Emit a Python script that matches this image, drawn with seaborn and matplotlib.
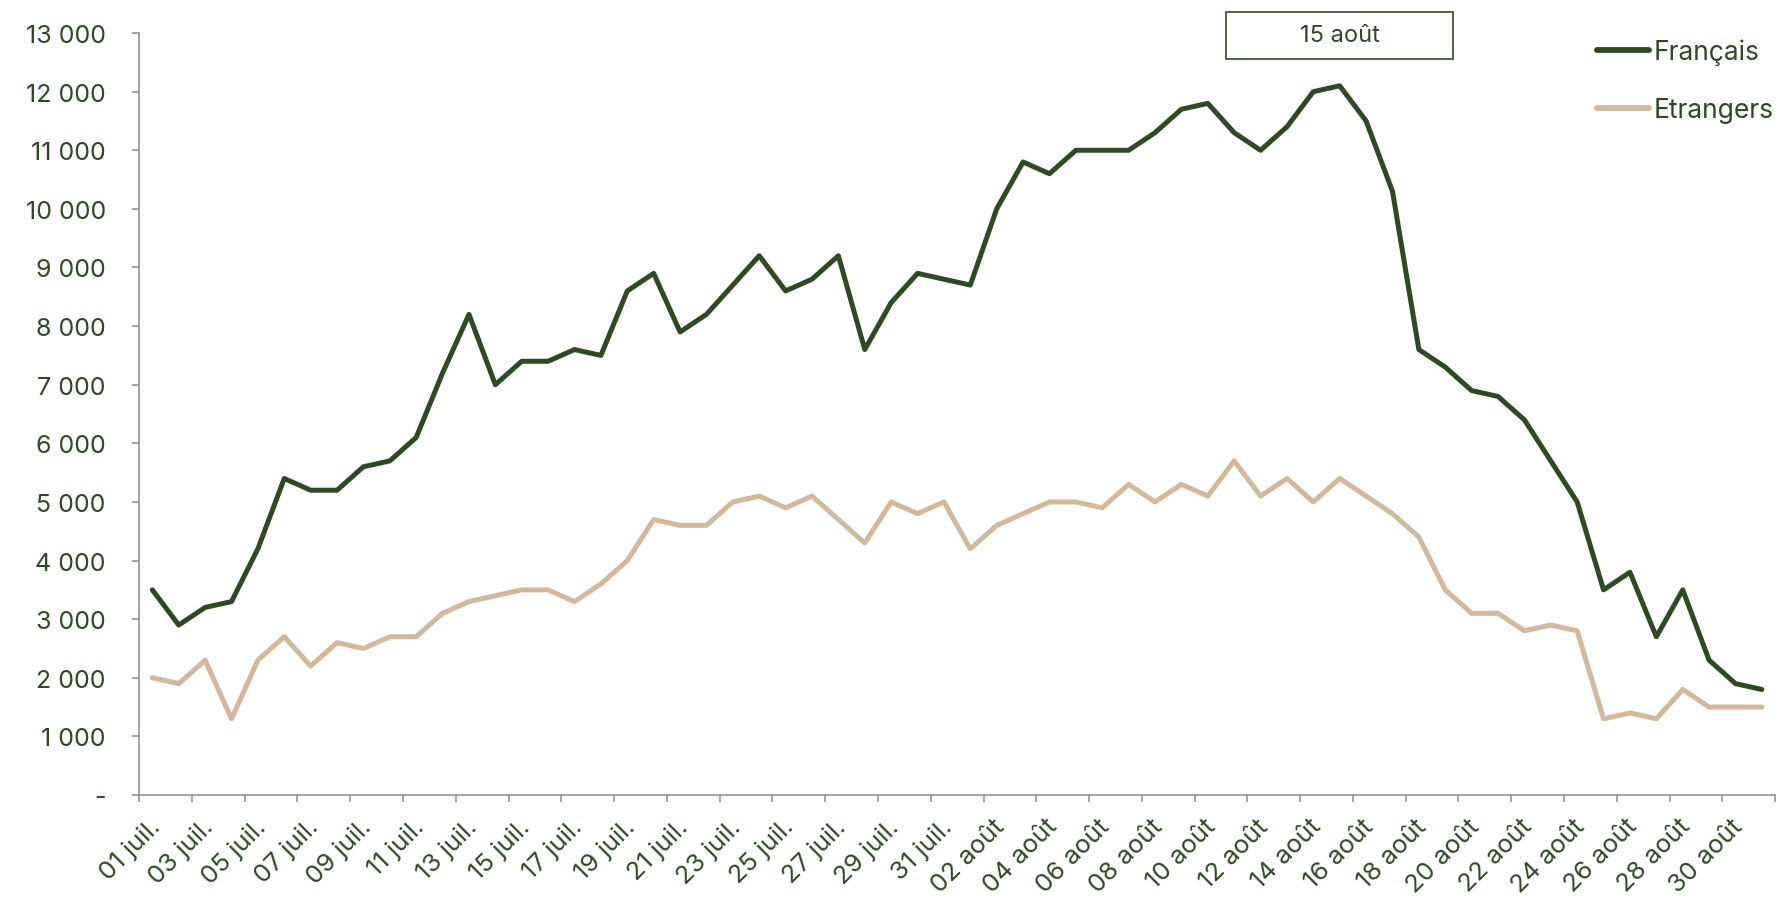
import numpy as np
import pandas as pd
import matplotlib
matplotlib.use("Agg")
import matplotlib.pyplot as plt
import matplotlib.transforms as mtransforms
import seaborn as sns
from matplotlib.patches import Rectangle
from matplotlib.ticker import FixedLocator, FuncFormatter

# ── Data ──────────────────────────────────────────────────────────────────────
days = [f"{d:02d} juil." for d in range(1, 32)] + [f"{d:02d} août" for d in range(1, 32)]

francais = [3500, 2900, 3200, 3300, 4200, 5400, 5200, 5200, 5600, 5700,
            6100, 7200, 8200, 7000, 7400, 7400, 7600, 7500, 8600, 8900,
            7900, 8200, 8700, 9200, 8600, 8800, 9200, 7600, 8400, 8900,
            8800,
            8700, 10000, 10800, 10600, 11000, 11000, 11000, 11300, 11700, 11800,
            11300, 11000, 11400, 12000, 12100, 11500, 10300, 7600, 7300, 6900,
            6800, 6400, 5700, 5000, 3500, 3800, 2700, 3500, 2300, 1900,
            1800]

etrangers = [2000, 1900, 2300, 1300, 2300, 2700, 2200, 2600, 2500, 2700,
             2700, 3100, 3300, 3400, 3500, 3500, 3300, 3600, 4000, 4700,
             4600, 4600, 5000, 5100, 4900, 5100, 4700, 4300, 5000, 4800,
             5000,
             4200, 4600, 4800, 5000, 5000, 4900, 5300, 5000, 5300, 5100,
             5700, 5100, 5400, 5000, 5400, 5100, 4800, 4400, 3500, 3100,
             3100, 2800, 2900, 2800, 1300, 1400, 1300, 1800, 1500, 1500,
             1500]

series_names = ["Français", "Etrangers"]
highlight_label = "15 août"
highlight_day = days.index("15 août")

DARK_GREEN = "#2D4A23"
TAN = "#D3B899"
AXIS_GREY = "#8C8C8C"
FONT = ["Inter", "DejaVu Sans"]

df = pd.DataFrame({
    "jour": list(range(len(days))) * 2,
    "visiteurs": francais + etrangers,
    "origine": [series_names[0]] * len(days) + [series_names[1]] * len(days),
})

# ── Style ─────────────────────────────────────────────────────────────────────
sns.set_style("white")
plt.rcParams["font.family"] = FONT

fig = plt.figure(figsize=(17.84, 9.03), dpi=100)
ax = fig.add_axes([0.078, 0.1185, 0.917, 0.8438])

sns.lineplot(data=df, x="jour", y="visiteurs", hue="origine",
             palette={series_names[0]: DARK_GREEN, series_names[1]: TAN},
             linewidth=3.6, ax=ax)

ax.set_xlim(-0.5, len(days) - 0.5)
ax.set_ylim(0, 13000)
ax.set_xlabel("")
ax.set_ylabel("")
ax.tick_params(which="both", left=True, bottom=True)

# y axis
ax.yaxis.set_major_locator(FixedLocator(np.arange(0, 13001, 1000)))
ax.yaxis.set_major_formatter(FuncFormatter(
    lambda v, _: "-" if v == 0 else f"{int(v):,}".replace(",", " ")))
ax.tick_params(axis="y", which="major", length=5, width=1.1, color=AXIS_GREY,
               direction="out", pad=19, labelsize=18, labelcolor=DARK_GREEN)

# x axis: labels every 2 days at category centres, marks at category edges
ax.xaxis.set_major_locator(FixedLocator(np.arange(0, len(days), 2)))
ax.set_xticklabels(days[::2])
ax.xaxis.set_minor_locator(FixedLocator(np.arange(-0.5, len(days), 2)))
ax.tick_params(axis="x", which="major", length=0, pad=14, labelsize=18.5,
               labelcolor=DARK_GREEN)
ax.tick_params(axis="x", which="minor", length=5, width=1.1, color=AXIS_GREY,
               direction="out")
shift = mtransforms.ScaledTranslation(-3 / 72, 0, fig.dpi_scale_trans)
for lbl in ax.get_xticklabels():
    lbl.set_rotation(45)
    lbl.set_ha("right")
    lbl.set_va("top")
    lbl.set_rotation_mode("anchor")
    lbl.set_transform(lbl.get_transform() + shift)

for side in ["top", "right"]:
    ax.spines[side].set_visible(False)
for side in ["left", "bottom"]:
    ax.spines[side].set_color(AXIS_GREY)
    ax.spines[side].set_linewidth(1.1)

# legend
handles, labels = ax.get_legend_handles_labels()
leg = ax.legend(handles, labels, loc="upper left", bbox_to_anchor=(0.895, 0.956),
                bbox_transform=fig.transFigure, frameon=False,
                handlelength=2.0, handletextpad=0.15, labelspacing=1.2,
                borderpad=0, borderaxespad=0,
                prop={"family": FONT, "size": 19})
for txt in leg.get_texts():
    txt.set_color(DARK_GREEN)
for line in leg.get_lines():
    line.set_linewidth(4.2)
    line.set_solid_capstyle("round")

# "15 août" marker box above the peak
box_w, box_h = 227 / 1784, 47.5 / 903
box_y = 1 - 60 / 903
x_disp = ax.transData.transform((highlight_day, 0))[0]
x_fig = fig.transFigure.inverted().transform((x_disp, 0))[0]
fig.patches.append(Rectangle((x_fig - box_w / 2, box_y), box_w, box_h,
                             transform=fig.transFigure, fill=False,
                             edgecolor=DARK_GREEN, linewidth=1.2))
fig.text(x_fig, box_y + box_h / 2, highlight_label, ha="center", va="center",
         fontsize=17, color=DARK_GREEN, family=FONT)

plt.savefig("out.png", dpi=100)
plt.close()
